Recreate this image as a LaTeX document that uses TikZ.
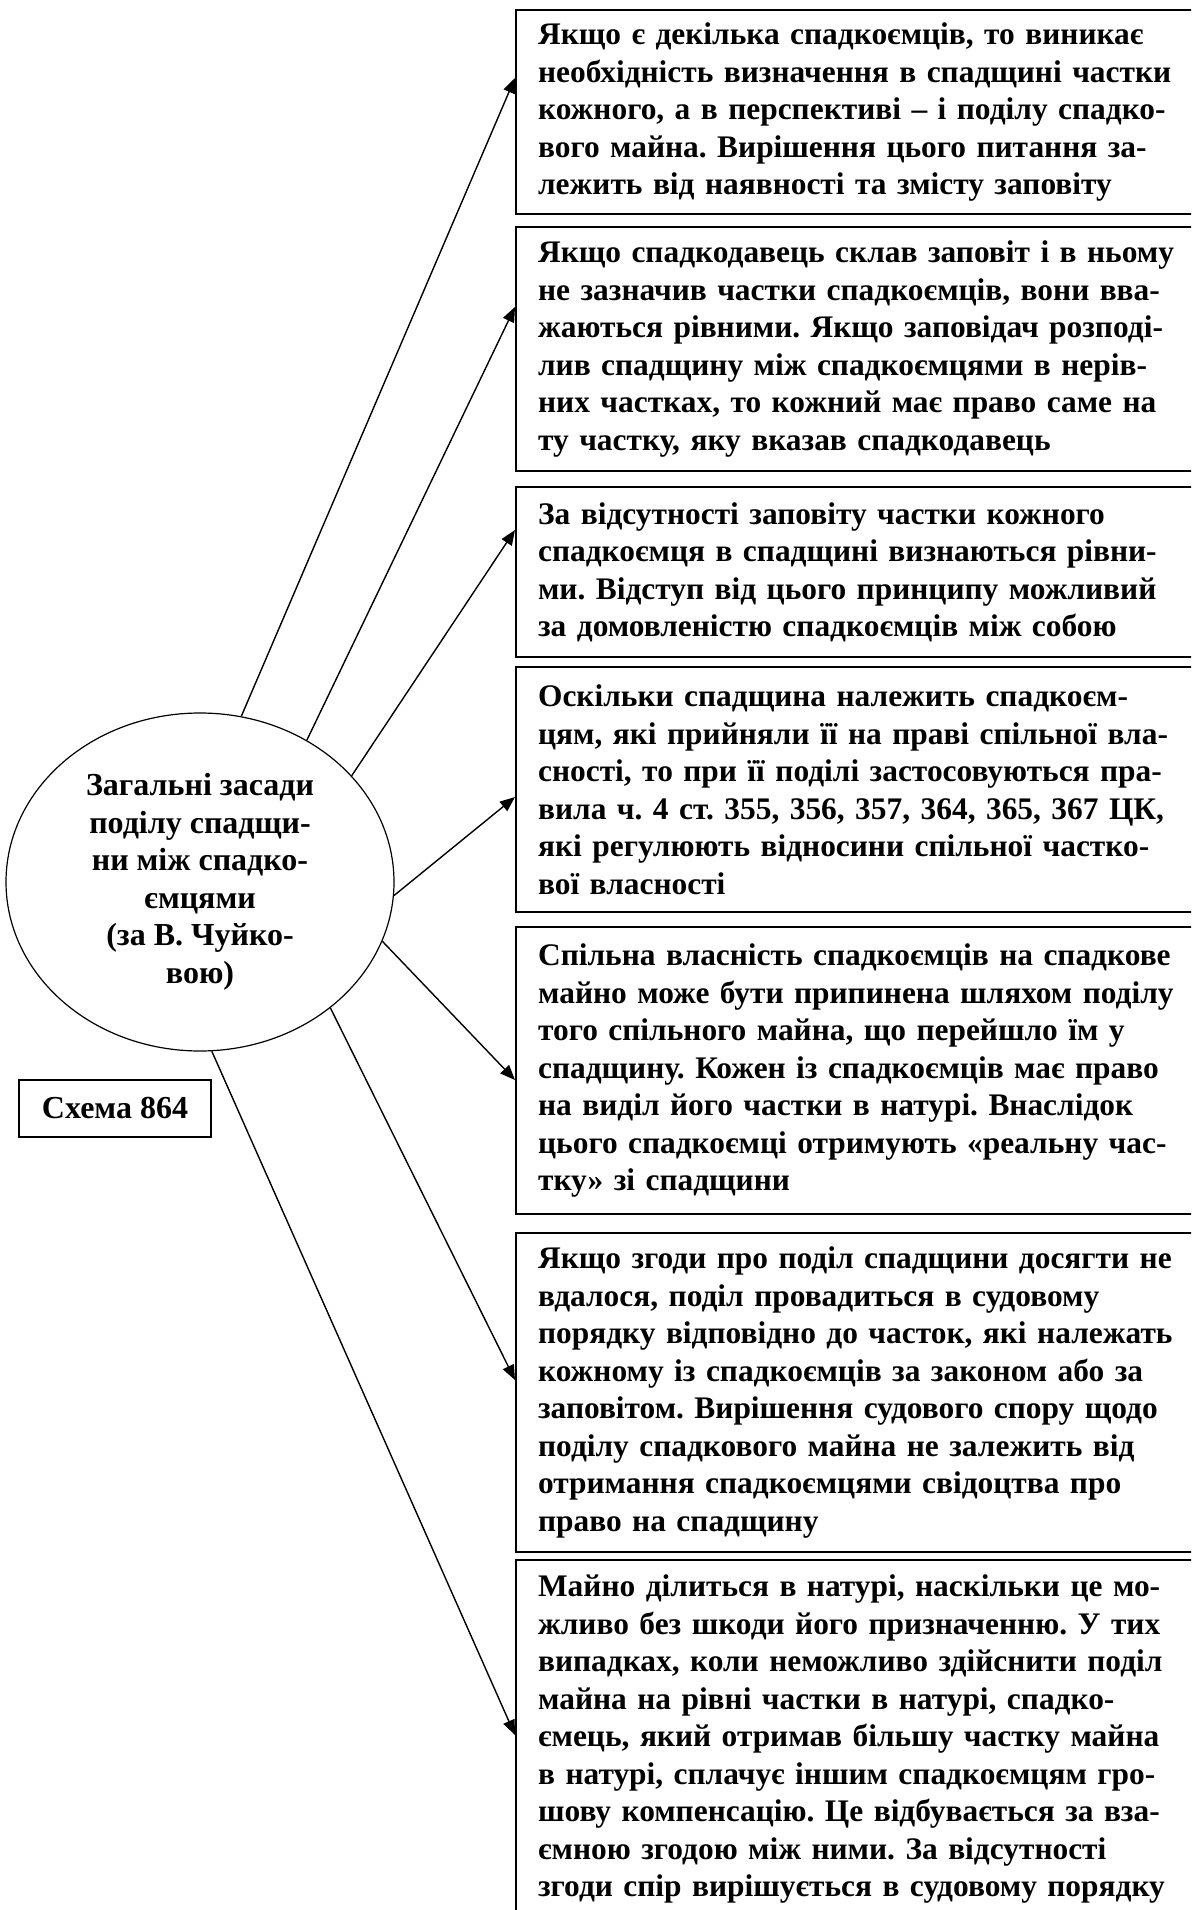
\documentclass[tikz,border=0pt]{standalone}
\usepackage{fontspec}
\setmainfont{Liberation Serif}
\usetikzlibrary{arrows.meta,positioning,shapes.geometric}
\frenchspacing

\begin{document}
\begin{tikzpicture}[x=0.5pt, y=-0.5pt,
  box/.style={draw, line width=1.1pt, anchor=north west, align=left, text width=340pt,
              inner xsep=11pt, font=\fontsize{15.7}{18.75}\selectfont\bfseries},
  arr/.style={-{Triangle[length=7.5pt,width=6pt]}, line width=0.7pt},
]
\useasboundingbox (0,0) rectangle (1191,1910);
\clip (0,0) rectangle (1191,1910);

% Centre
\node[ellipse, draw, line width=0.6pt, minimum width=194pt, minimum height=169pt, inner sep=0pt,
      align=center, font=\fontsize{16}{18.75}\selectfont\bfseries] (core) at (200,882)
  {Загальні засади\\поділу спадщи-\\ни між спадко-\\ємцями\\(за В. Чуйко-\\вою)};
\node[draw, line width=0.9pt, minimum width=96pt, minimum height=28.5pt,
      font=\fontsize{16}{18.75}\selectfont\bfseries] (tag) at (115,1108.5) {Схема 864};

% Boxes
\node[box, minimum height=102pt] (b1) at (515,9)
  {Якщо є декілька спадкоємців, то виникає\\необхідність визначення в спадщині частки\\кожного, а в перспективі – і поділу спадко-\\вого майна. Вирішення цього питання за-\\лежить від наявності та змісту заповіту};
\node[box, minimum height=122pt] (b2) at (515,226)
  {Якщо спадкодавець склав заповіт і в ньому\\не зазначив частки спадкоємців, вони вва-\\жаються рівними. Якщо заповідач розподі-\\лив спадщину між спадкоємцями в нерів-\\них частках, то кожний має право саме на\\ту частку, яку вказав спадкодавець};
\node[box, minimum height=85pt] (b3) at (515,486)
  {За відсутності заповіту частки кожного\\спадкоємця в спадщині визнаються рівни-\\ми. Відступ від цього принципу можливий\\за домовленістю спадкоємців між собою};
\node[box, minimum height=122.5pt] (b4) at (515,666)
  {Оскільки спадщина належить спадкоєм-\\цям, які прийняли її на праві спільної вла-\\сності, то при її поділі застосовуються пра-\\вила ч. 4 ст. 355, 356, 357, 364, 365, 367 ЦК,\\які регулюють відносини спільної частко-\\вої власності};
\node[box, minimum height=143.5pt] (b5) at (515,926)
  {Спільна власність спадкоємців на спадкове\\майно може бути припинена шляхом поділу\\того спільного майна, що перейшло їм у\\спадщину. Кожен із спадкоємців має право\\на виділ його частки в натурі. Внаслідок\\цього спадкоємці отримують «реальну час-\\тку» зі спадщини};
\node[box, minimum height=159.5pt] (b6) at (515,1232)
  {Якщо згоди про поділ спадщини досягти не\\вдалося, поділ провадиться в судовому\\порядку відповідно до часток, які належать\\кожному із спадкоємців за законом або за\\заповітом. Вирішення судового спору щодо\\поділу спадкового майна не залежить від\\отримання спадкоємцями свідоцтва про\\право на спадщину};
\node[box, minimum height=179pt] (b7) at (515,1559)
  {Майно ділиться в натурі, наскільки це мо-\\жливо без шкоди його призначенню. У тих\\випадках, коли неможливо здійснити поділ\\майна на рівні частки в натурі, спадко-\\ємець, який отримав більшу частку майна\\в натурі, сплачує іншим спадкоємцям гро-\\шову компенсацію. Це відбувається за вза-\\ємною згодою між ними. За відсутності\\згоди спір вирішується в судовому порядку};

% Arrows
\draw[arr] (core.76) -- ([yshift=-34.5pt]b1.north west);
\draw[arr] (core.53.5) -- ([yshift=-40.5pt]b2.north west);
\draw[arr] (core.35) -- ([yshift=-22pt]b3.north west);
\draw[arr] (core.-4.7) -- ([yshift=-65.5pt]b4.north west);
\draw[arr] (core.-18.4) -- ([yshift=-77pt]b5.north west);
\draw[arr] (core.-44.3) -- ([yshift=-74pt]b6.north west);
\draw[arr] (core.-86.3) -- ([yshift=-88pt]b7.north west);
\end{tikzpicture}
\end{document}
